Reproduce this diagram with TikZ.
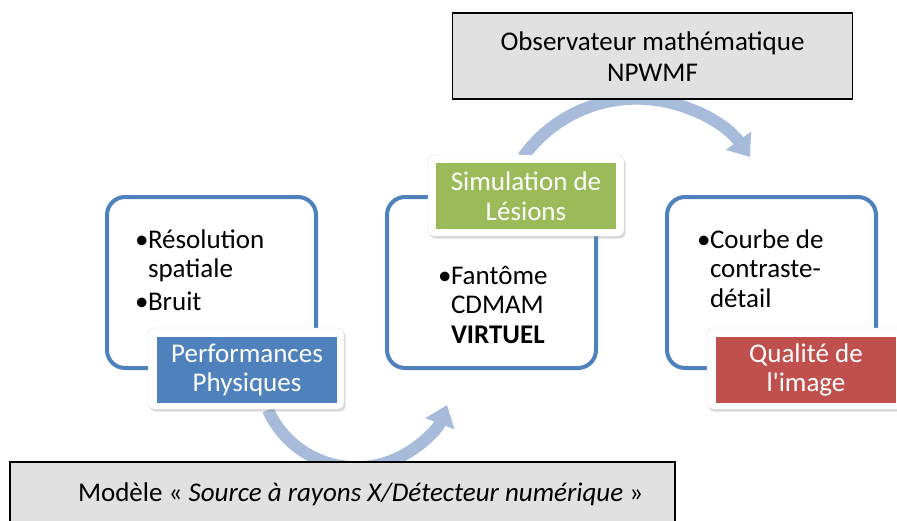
\documentclass[tikz,border=0pt]{standalone}
\usepackage{fontspec}
\setmainfont{Carlito}
\newfontfamily\calfont{Carlito}
\usetikzlibrary{arrows.meta,shadows}
\definecolor{ablue}{RGB}{79,129,189}
\definecolor{agreen}{RGB}{155,187,89}
\definecolor{ared}{RGB}{192,80,77}
\definecolor{arrowc}{RGB}{167,188,219}
\definecolor{boxgray}{RGB}{225,225,225}
\newcommand{\bul}{\makebox[13pt][l]{•}}
\begin{document}
\begin{tikzpicture}[x=1pt,y=-1pt,
  every node/.style={inner sep=0pt,outer sep=0pt},
  txt/.style={font=\calfont\fontsize{27}{29.5}\selectfont},
  outerbox/.style={draw=ablue,line width=4pt,rounded corners=18pt,fill=white,anchor=north west,minimum width=209pt,minimum height=171pt},
  frame/.style={draw=black!12,fill=white,rounded corners=6pt,anchor=north west,minimum width=196pt,minimum height=81pt,
    drop shadow={opacity=0.3,shadow xshift=1.5pt,shadow yshift=-2.5pt}},
  tag/.style={txt,text=white,align=center,anchor=north west,minimum width=180pt,minimum height=66pt},
  graybox/.style={draw=black,line width=1.2pt,fill=boxgray,anchor=north west},
  bigarrow/.style={draw=arrowc,line width=12pt,-{Triangle[width=30pt,length=20pt]}}
]
\useasboundingbox (0,0) rectangle (897,520);

% curved arrows
\coordinate (a1s) at (268,410);
\draw[bigarrow] (a1s) arc[start angle=155.8,end angle=21,radius=97];
\coordinate (a2s) at (523,157);
\draw[bigarrow] (a2s) arc[start angle=-144.4,end angle=-35.6,radius=139.6];

% gray boxes
\node[graybox,minimum width=665pt,minimum height=75pt] (model) at (10,462) {};
\node[txt,anchor=base west] (modeltxt) at (78,501) {Modèle « \textit{Source à rayons X/Détecteur numérique} »};
\node[graybox,minimum width=400pt,minimum height=86pt] (obs) at (452.5,13) {};
\node[txt,anchor=base,align=center,font=\calfont\fontsize{27}{30.5}\selectfont] (obstxt) at (652.5,81) {Observateur mathématique\\NPWMF};

% main boxes
\node[outerbox] (b1) at (107,197) {};
\node[outerbox] (b2) at (387,197) {};
\node[outerbox] (b3) at (667,197) {};

\node[txt,anchor=base west,align=left] (t1) at (135,310) {\bul Résolution\\\hspace*{13pt}spatiale\\[3pt]\bul Bruit};
\node[txt,anchor=base west,align=left] (t2) at (438,343) {\bul Fantôme\\\hspace*{13pt}CDMAM\\\hspace*{13pt}\textbf{VIRTUEL}};
\node[txt,anchor=base west,align=left] (t3) at (697,307) {\bul Courbe de\\\hspace*{13pt}contraste-\\\hspace*{13pt}détail};

% labels
\node[frame] (f1) at (148,328) {};
\node[tag,fill=ablue] (l1) at (157,337) {Performances\\Physiques};
\node[frame] (f2) at (428,155) {};
\node[tag,fill=agreen] (l2) at (436,163) {Simulation de\\Lésions};
\node[frame] (f3) at (707,328) {};
\node[tag,fill=ared] (l3) at (716,337) {Qualité de\\l'image};
\end{tikzpicture}
\end{document}
